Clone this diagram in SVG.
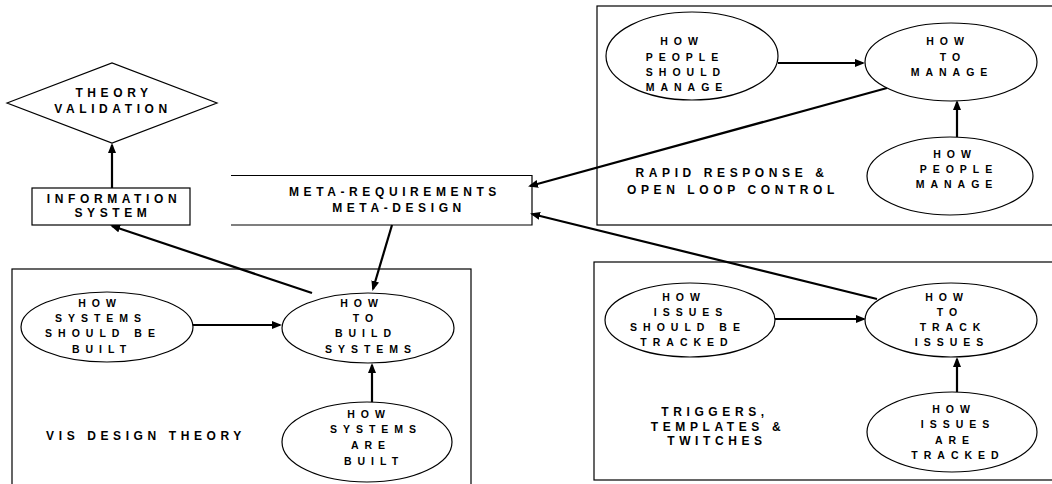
<svg xmlns="http://www.w3.org/2000/svg" width="1052" height="484" viewBox="0 0 1052 484">
  <style>
    .frame { fill: none; stroke: #000; stroke-width: 1.2; }
    .node { fill: #fff; stroke: #000; stroke-width: 1.2; }
    .edge { fill: none; stroke: #000; stroke-width: 2.2; }
    text { font-family: "Liberation Sans", Arial, sans-serif; font-weight: bold; fill: #000; text-anchor: middle; }
    .big { font-size: 12px; letter-spacing: 4.6px; }
    .sm { font-size: 10.5px; letter-spacing: 6px; }
  </style>
  <defs>
    <marker id="ah" viewBox="0 0 10 8" refX="8" refY="4" markerWidth="10" markerHeight="8" markerUnits="userSpaceOnUse" orient="auto">
      <path d="M0,0 L10,4 L0,8 z" fill="#000"/>
    </marker>
  </defs>

  <rect width="1052" height="484" fill="#fff"/>

  <!-- Theory frames -->
  <g id="frame-vis">
    <rect class="frame" x="12" y="269" width="459" height="230"/>
    <text class="big" x="146" y="440">VIS DESIGN THEORY</text>
  </g>
  <g id="frame-rapid">
    <rect class="frame" x="597" y="6" width="470" height="219"/>
    <text class="big" x="732" y="177">RAPID RESPONSE &amp;</text>
    <text class="big" x="733" y="194">OPEN LOOP CONTROL</text>
  </g>
  <g id="frame-triggers">
    <rect class="frame" x="594" y="262" width="470" height="218"/>
    <text class="big" x="715" y="416">TRIGGERS,</text>
    <text class="big" x="718" y="431">TEMPLATES &amp;</text>
    <text class="big" x="717" y="445">TWITCHES</text>
  </g>

  <!-- Connectors -->
  <g id="connectors">
    <line class="edge" x1="112" y1="188" x2="112" y2="145" marker-end="url(#ah)"/>
    <line class="edge" x1="312" y1="293" x2="112" y2="226" marker-end="url(#ah)"/>
    <line class="edge" x1="392" y1="225" x2="373" y2="289" marker-end="url(#ah)"/>
    <line class="edge" x1="193" y1="325" x2="280" y2="325" marker-end="url(#ah)"/>
    <line class="edge" x1="372" y1="402" x2="372" y2="365" marker-end="url(#ah)"/>
    <line class="edge" x1="778" y1="63" x2="863" y2="63" marker-end="url(#ah)"/>
    <line class="edge" x1="957" y1="137" x2="957" y2="102" marker-end="url(#ah)"/>
    <line class="edge" x1="887" y1="88" x2="530" y2="186" marker-end="url(#ah)"/>
    <line class="edge" x1="775" y1="319" x2="864" y2="319" marker-end="url(#ah)"/>
    <line class="edge" x1="957" y1="392" x2="957" y2="359" marker-end="url(#ah)"/>
    <line class="edge" x1="877" y1="299" x2="532" y2="214" marker-end="url(#ah)"/>
  </g>

  <!-- Nodes -->
  <g id="theory-validation">
    <polygon class="node" points="7,103 112,63 217,103 112,143"/>
    <text class="big" x="114" y="97">THEORY</text>
    <text class="big" x="113" y="113">VALIDATION</text>
  </g>
  <g id="information-system">
    <rect class="node" x="32" y="188" width="158" height="37"/>
    <text class="big" x="114" y="203">INFORMATION</text>
    <text class="big" x="113" y="217">SYSTEM</text>
  </g>
  <g id="meta">
    <path class="frame" d="M231,175.5 H532 V225 H231"/>
    <text class="big" x="395" y="196">META-REQUIREMENTS</text>
    <text class="big" x="399" y="212">META-DESIGN</text>
  </g>

  <g id="systems-should">
    <ellipse class="node" cx="107" cy="327" rx="86" ry="35"/>
    <text class="sm" x="100" y="307">HOW</text>
    <text class="sm" x="101" y="322">SYSTEMS</text>
    <text class="sm" x="103" y="337">SHOULD BE</text>
    <text class="sm" x="102" y="353">BUILT</text>
  </g>
  <g id="build-systems">
    <ellipse class="node" cx="368" cy="328" rx="86" ry="35"/>
    <text class="sm" x="362" y="307">HOW</text>
    <text class="sm" x="366" y="322">TO</text>
    <text class="sm" x="366" y="337">BUILD</text>
    <text class="sm" x="371" y="353">SYSTEMS</text>
  </g>
  <g id="systems-are">
    <ellipse class="node" cx="367" cy="442" rx="85" ry="40"/>
    <text class="sm" x="369" y="418">HOW</text>
    <text class="sm" x="376" y="433">SYSTEMS</text>
    <text class="sm" x="371" y="449">ARE</text>
    <text class="sm" x="374" y="465">BUILT</text>
  </g>

  <g id="people-should">
    <ellipse class="node" cx="692" cy="56" rx="86" ry="44"/>
    <text class="sm" x="682" y="45">HOW</text>
    <text class="sm" x="685" y="61">PEOPLE</text>
    <text class="sm" x="686" y="76">SHOULD</text>
    <text class="sm" x="687" y="91">MANAGE</text>
  </g>
  <g id="to-manage">
    <ellipse class="node" cx="951" cy="62" rx="86" ry="39"/>
    <text class="sm" x="948" y="45">HOW</text>
    <text class="sm" x="953" y="61">TO</text>
    <text class="sm" x="952" y="76">MANAGE</text>
  </g>
  <g id="people-manage">
    <ellipse class="node" cx="950" cy="176" rx="83" ry="39"/>
    <text class="sm" x="955" y="158">HOW</text>
    <text class="sm" x="959" y="173">PEOPLE</text>
    <text class="sm" x="957" y="188">MANAGE</text>
  </g>

  <g id="issues-should">
    <ellipse class="node" cx="690" cy="320" rx="85" ry="37"/>
    <text class="sm" x="684" y="301">HOW</text>
    <text class="sm" x="691" y="316">ISSUES</text>
    <text class="sm" x="688" y="331">SHOULD BE</text>
    <text class="sm" x="687" y="346">TRACKED</text>
  </g>
  <g id="track-issues">
    <ellipse class="node" cx="951" cy="320" rx="86" ry="37"/>
    <text class="sm" x="947" y="301">HOW</text>
    <text class="sm" x="950" y="316">TO</text>
    <text class="sm" x="953" y="331">TRACK</text>
    <text class="sm" x="952" y="346">ISSUES</text>
  </g>
  <g id="issues-are">
    <ellipse class="node" cx="952" cy="432" rx="85" ry="40"/>
    <text class="sm" x="954" y="413">HOW</text>
    <text class="sm" x="958" y="428">ISSUES</text>
    <text class="sm" x="955" y="444">ARE</text>
    <text class="sm" x="958" y="459">TRACKED</text>
  </g>
</svg>
